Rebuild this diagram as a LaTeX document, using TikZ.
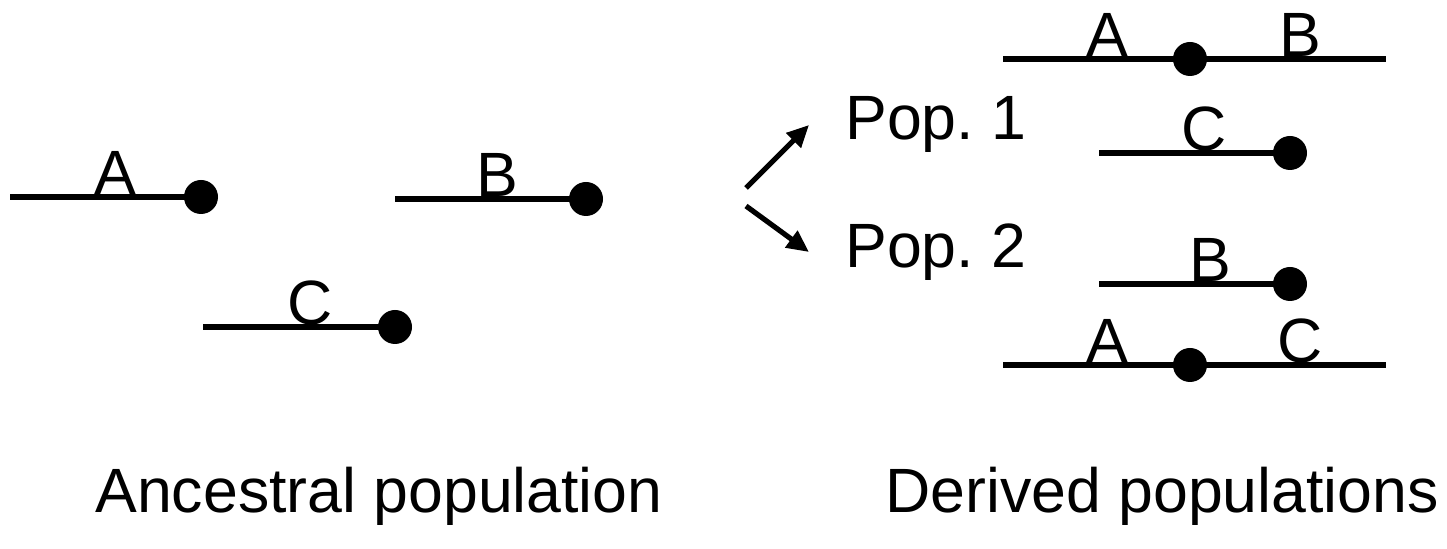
\documentclass[tikz,border=0pt]{standalone}
\usepackage{fontspec}
\setmainfont{Liberation Sans}
\usetikzlibrary{arrows.meta}
\frenchspacing
\begin{document}
\begin{tikzpicture}[x=0.5pt,y=-0.5pt,
  chrom/.style={line width=2.6pt},
  cen/.style={circle,fill=black,inner sep=0pt,minimum size=17pt},
  lbl/.style={anchor=base,font=\fontsize{31.3}{36}\selectfont,inner sep=0pt},
  txt/.style={anchor=base west,font=\fontsize{31.3}{36}\selectfont,inner sep=0pt},
  arr/.style={line width=2.6pt,-{Triangle[length=11pt,width=10pt]}}]
\useasboundingbox (0,0) rectangle (1447,549);
% Ancestral population
\coordinate (a0) at (10,197);
\node[cen] (ad) at (201,197) {};
\draw[chrom] (a0) -- (ad.center);
\node[lbl] (al) at (115,195) {A};
\coordinate (b0) at (395,199);
\node[cen] (bd) at (586,199) {};
\draw[chrom] (b0) -- (bd.center);
\node[lbl] (bl) at (497,197) {B};
\coordinate (c0) at (203,327);
\node[cen] (cd) at (395,327) {};
\draw[chrom] (c0) -- (cd.center);
\node[lbl] (cl) at (310,325) {C};
% arrows
\coordinate (s1) at (746,188);
\coordinate (t1) at (809,125);
\coordinate (s2) at (746,206);
\coordinate (t2) at (809,252);
\draw[arr] (s1) -- (t1);
\draw[arr] (s2) -- (t2);
\node[txt] (p1) at (845,140) {Pop. 1};
\node[txt] (p2) at (845,268) {Pop. 2};
% Pop. 1
\coordinate (ab0) at (1003,59);
\coordinate (ab1) at (1386,59);
\draw[chrom] (ab0) -- (ab1);
\node[cen] (abd) at (1190,59) {};
\node[lbl] (abA) at (1107,57) {A};
\node[lbl] (abB) at (1300,57) {B};
\coordinate (pc0) at (1099,153);
\node[cen] (pcd) at (1290,153) {};
\draw[chrom] (pc0) -- (pcd.center);
\node[lbl] (pcl) at (1204,151) {C};
% Pop. 2
\coordinate (pb0) at (1099,284);
\node[cen] (pbd) at (1290,284) {};
\draw[chrom] (pb0) -- (pbd.center);
\node[lbl] (pbl) at (1210,282) {B};
\coordinate (ac0) at (1003,365);
\coordinate (ac1) at (1386,365);
\draw[chrom] (ac0) -- (ac1);
\node[cen] (acd) at (1190,365) {};
\node[lbl] (acA) at (1107,363) {A};
\node[lbl] (acC) at (1300,363) {C};
% captions
\node[txt] (anc) at (95,513) {Ancestral population};
\node[txt] (der) at (885,513) {Derived populations};
\end{tikzpicture}
\end{document}
